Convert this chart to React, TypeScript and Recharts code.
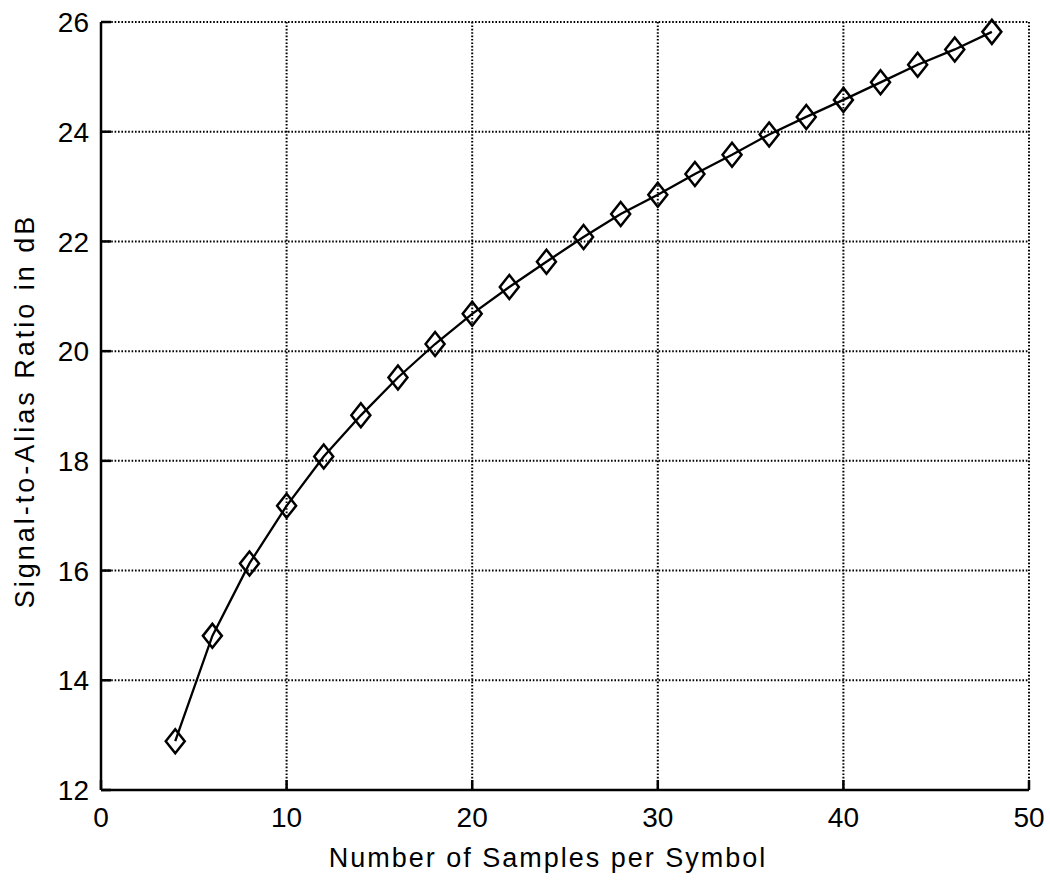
import React from 'react';
import { LineChart, Line, XAxis, YAxis, CartesianGrid } from 'recharts';

// samples per symbol vs signal-to-alias ratio (dB)
const samplesPerSymbol = [4, 6, 8, 10, 12, 14, 16, 18, 20, 22, 24, 26, 28, 30, 32, 34, 36, 38, 40, 42, 44, 46, 48];
const signalToAlias = [
  12.89, 14.81, 16.13, 17.18, 18.08, 18.83, 19.52, 20.13, 20.68, 21.17, 21.63, 22.08,
  22.5, 22.85, 23.23, 23.58, 23.95, 24.27, 24.58, 24.9, 25.22, 25.5, 25.82
];
const xTicks = [0, 10, 20, 30, 40, 50];
const yTicks = [12, 14, 16, 18, 20, 22, 24, 26];

const data = samplesPerSymbol.map((n, i) => ({ n, sar: signalToAlias[i] }));

const font = 'Liberation Sans, Arial, Helvetica, sans-serif';
const noLabel = () => '';

const XTick = (props: any) => {
  const { x, y, payload } = props;
  return (
    <text x={x} y={y} dy="0.72em" textAnchor="middle" fontFamily={font} fontSize={28} fill="#000">
      {payload.value}
    </text>
  );
};

const YTick = (props: any) => {
  const { x, y, payload } = props;
  return (
    <text x={x} y={y} dy="0.36em" textAnchor="end" fontFamily={font} fontSize={28} fill="#000">
      {payload.value}
    </text>
  );
};

const Diamond = (props: any) => {
  const { cx, cy } = props;
  if (cx == null || cy == null) return null;
  return (
    <polygon
      points={`${cx},${cy - 12} ${cx + 9.5},${cy} ${cx},${cy + 12} ${cx - 9.5},${cy}`}
      fill="none"
      stroke="#000"
      strokeWidth={2.5}
    />
  );
};

const App = () => {
  return (
    <div style={{ position: 'absolute', left: 0, top: 0, background: '#fff' }}>
      <LineChart width={1050} height={882} data={data} margin={{ top: 22, right: 21, bottom: 0, left: 0 }}>
        <CartesianGrid
          xAxisId="bottom"
          yAxisId="left"
          stroke="#000"
          strokeWidth={2}
          strokeDasharray="1.6 1.8"
        />
        <XAxis
          xAxisId="bottom"
          dataKey="n"
          type="number"
          domain={[0, 50]}
          ticks={xTicks}
          height={92}
          stroke="#000"
          strokeWidth={2.5}
          tickSize={-10}
          tickMargin={27}
          tick={<XTick />}
          label={{
            value: 'Number of Samples per Symbol',
            position: 'insideBottom',
            offset: 15,
            dx: -17,
            style: { fontFamily: font, fontSize: 27, fill: '#000', letterSpacing: 2 }
          }}
        />
        <XAxis
          xAxisId="top"
          dataKey="n"
          type="number"
          orientation="top"
          domain={[0, 50]}
          ticks={xTicks}
          height={0}
          stroke="#000"
          strokeWidth={2.5}
          tickSize={-10}
          tickFormatter={noLabel}
        />
        <YAxis
          yAxisId="left"
          type="number"
          domain={[12, 26]}
          ticks={yTicks}
          width={101}
          stroke="#000"
          strokeWidth={2.5}
          tickSize={-10}
          tickMargin={22}
          tick={<YTick />}
          label={{
            value: 'Signal-to-Alias Ratio in dB',
            angle: -90,
            position: 'insideLeft',
            offset: 24,
            dy: 5,
            style: { fontFamily: font, fontSize: 27, fill: '#000', letterSpacing: 3, textAnchor: 'middle' }
          }}
        />
        <YAxis
          yAxisId="right"
          type="number"
          orientation="right"
          domain={[12, 26]}
          ticks={yTicks}
          width={0}
          stroke="#000"
          strokeWidth={2.5}
          tickSize={-10}
          tickFormatter={noLabel}
        />
        <Line
          xAxisId="bottom"
          yAxisId="left"
          type="linear"
          dataKey="sar"
          stroke="#000"
          strokeWidth={2.3}
          dot={<Diamond />}
          activeDot={false}
          isAnimationActive={false}
        />
      </LineChart>
    </div>
  );
};

export default App;
